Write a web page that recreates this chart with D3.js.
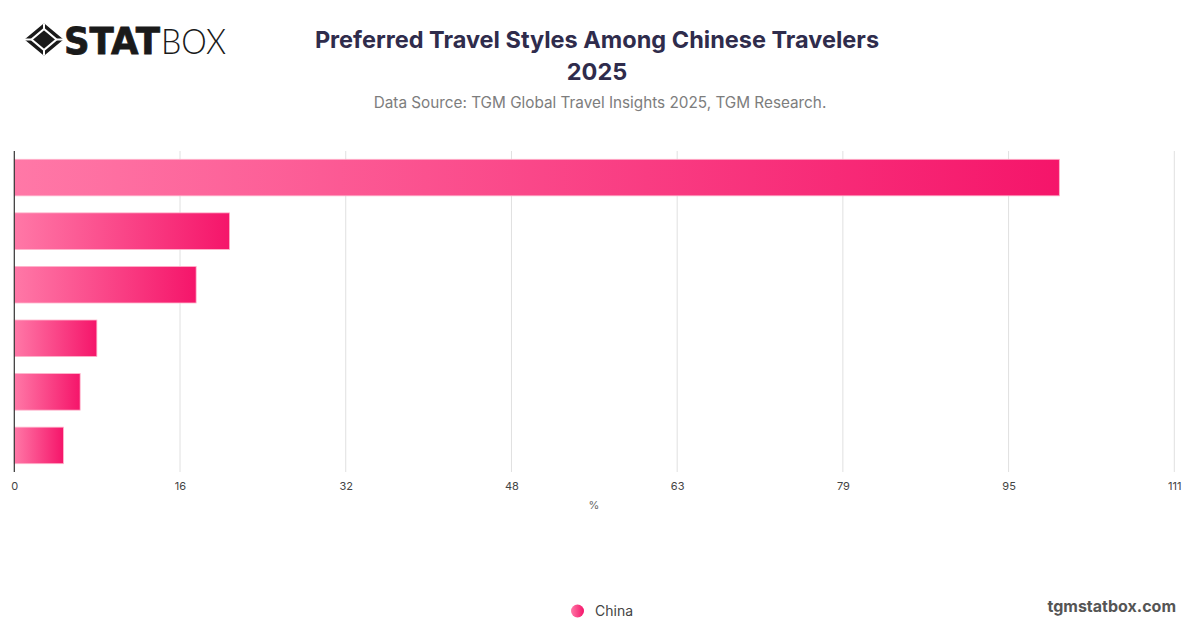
<!DOCTYPE html>
<html>
<head>
<meta charset="utf-8">
<script src="https://cdn.jsdelivr.net/npm/d3@7"></script>
<style>
  html, body { margin: 0; padding: 0; background: #fff; }
  svg { display: block; }
</style>
</head>
<body>
<svg id="chart" width="1200" height="628"></svg>
<script>
// ---- data ----
const categories = ["Independent travel", "Group tour", "Semi-independent", "Family trip", "Business + leisure", "Other"];
const values = [100, 20.6, 17.4, 7.9, 6.3, 4.7];
const seriesName = "China";
const tickLabels = [0, 16, 32, 48, 63, 79, 95, 111];
const xMax = 111;
const titleLines = ["Preferred Travel Styles Among Chinese Travelers", "2025"];
const subtitle = "Data Source: TGM Global Travel Insights 2025, TGM Research.";
const axisTitle = "%";

const svg = d3.select("#chart");
const W = 1200, H = 628;
const m = { left: 14.3, right: 1200 - 1174.3, top: 151, bottom: 628 - 472 };

const defs = svg.append("defs");
const grad = defs.append("linearGradient").attr("id", "barGrad")
  .attr("x1", "0%").attr("x2", "100%").attr("y1", "0%").attr("y2", "0%");
grad.append("stop").attr("offset", "0%").attr("stop-color", "#ff78a7");
grad.append("stop").attr("offset", "100%").attr("stop-color", "#f5156a");

// ---- logo ----
const logo = svg.append("g").attr("transform", "translate(44,39.5)");
logo.append("path").attr("d", "M0,-15 L18,0 L0,15 L-18,0 Z").attr("fill", "#1a1a1a")
  .attr("stroke", "#1a1a1a").attr("stroke-width", 2).attr("stroke-linejoin", "round");
logo.append("path").attr("d", "M0,-10.5 L12.5,0 L0,10.5 L-12.5,0 Z").attr("fill", "none")
  .attr("stroke", "#fff").attr("stroke-width", 2.2).attr("stroke-linejoin", "round");
logo.append("path").attr("d", "M0,-7 L8.5,0 L0,7 L-8.5,0 Z").attr("fill", "#1a1a1a");
[[0,-10.5,0,-16],[12.5,0,19,0],[0,10.5,0,16],[-12.5,0,-19,0]].forEach(l => {
  logo.append("line").attr("x1", l[0]).attr("y1", l[1]).attr("x2", l[2]).attr("y2", l[3])
    .attr("stroke", "#fff").attr("stroke-width", 2);
});
svg.append("text").attr("x", 64).attr("y", 53.5)
  .attr("font-family", "DejaVu Sans").attr("font-weight", 900).attr("font-size", 37)
  .attr("textLength", 96).attr("lengthAdjust", "spacingAndGlyphs")
  .attr("fill", "#1a1a1a").attr("stroke", "#1a1a1a").attr("stroke-width", 0.8).text("STAT");
svg.append("text").attr("x", 161).attr("y", 53.5)
  .attr("font-family", "Lato, 'Liberation Sans'").attr("font-weight", 300).attr("font-size", 36)
  .attr("textLength", 65).attr("lengthAdjust", "spacingAndGlyphs")
  .attr("fill", "#1a1a1a").text("BOX");

// ---- titles ----
const title = svg.append("text").attr("text-anchor", "middle")
  .attr("font-family", "Inter, 'Noto Sans', sans-serif").attr("font-weight", 700)
  .attr("font-size", 23.5).attr("fill", "#2f2c4c");
titleLines.forEach((t, i) => {
  title.append("tspan").attr("x", 597).attr("y", 47.5 + i * 32).text(t);
});
svg.append("text").attr("x", 600).attr("y", 108).attr("text-anchor", "middle")
  .attr("font-family", "Inter, 'Noto Sans', sans-serif").attr("font-size", 15.3)
  .attr("fill", "#7d7d7d").text(subtitle);

// ---- scales ----
const x = d3.scaleLinear().domain([0, xMax]).range([m.left, W - m.right]);
const y = d3.scaleBand().domain(categories).range([m.top, H - m.bottom])
  .paddingInner(0.318).paddingOuter(0.155);

const tickVals = tickLabels.map((_, i) => i * xMax / (tickLabels.length - 1));

// gridlines
svg.append("g").selectAll("line").data(tickVals.slice(1)).join("line")
  .attr("x1", d => x(d)).attr("x2", d => x(d))
  .attr("y1", m.top).attr("y2", H - m.bottom)
  .attr("stroke", "#e0e0e0").attr("stroke-width", 1);

// bars
svg.append("g").selectAll("rect").data(values).join("rect")
  .attr("x", x(0))
  .attr("y", (d, i) => y(categories[i]))
  .attr("width", d => x(d) - x(0))
  .attr("height", y.bandwidth())
  .attr("fill", "url(#barGrad)")
  .attr("stroke", "#ffb3cb").attr("stroke-width", 0.8);

// y axis line
svg.append("line").attr("x1", x(0)).attr("x2", x(0))
  .attr("y1", m.top).attr("y2", H - m.bottom)
  .attr("stroke", "#333").attr("stroke-width", 1.2);

// x axis (labels only)
const xAxis = d3.axisBottom(x).tickValues(tickVals)
  .tickFormat((d, i) => tickLabels[i]).tickSize(0).tickPadding(0);
const gx = svg.append("g").attr("transform", `translate(0,${H - m.bottom + 18})`).call(xAxis);
gx.select(".domain").remove();
gx.selectAll("text").attr("font-family", "Inter, 'Noto Sans', sans-serif")
  .attr("font-size", 11).attr("fill", "#444").attr("dy", "0");

svg.append("text").attr("x", 594).attr("y", 509).attr("text-anchor", "middle")
  .attr("font-family", "Inter, 'Noto Sans', sans-serif").attr("font-size", 11)
  .attr("fill", "#666").text(axisTitle);

// legend
svg.append("circle").attr("cx", 577.5).attr("cy", 611).attr("r", 6.5).attr("fill", "url(#barGrad)");
svg.append("text").attr("x", 595).attr("y", 616).attr("font-family", "Inter, 'Noto Sans', sans-serif")
  .attr("font-size", 14).attr("fill", "#444").text(seriesName);

// watermark
svg.append("text").attr("x", 1176).attr("y", 612).attr("text-anchor", "end")
  .attr("font-family", "Inter, 'Noto Sans', sans-serif").attr("font-weight", 700)
  .attr("font-size", 16).attr("fill", "#555").text("tgmstatbox.com");
</script>
</body>
</html>
